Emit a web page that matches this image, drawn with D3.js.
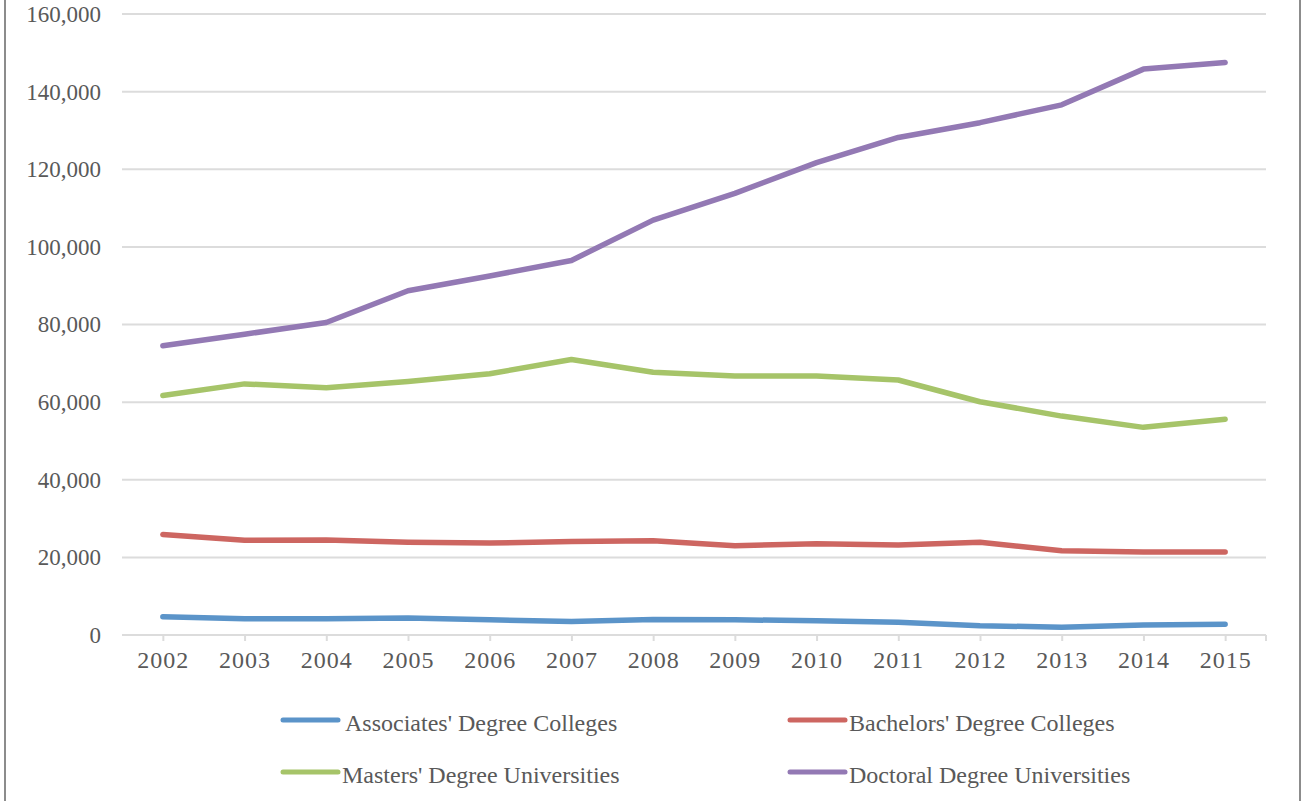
<!DOCTYPE html>
<html>
<head>
<meta charset="utf-8">
<script src="https://cdn.jsdelivr.net/npm/d3@7"></script>
<style>
  body { margin: 0; background: #fff; }
  svg { display: block; font-family: "Liberation Serif", "Times New Roman", serif; }
</style>
</head>
<body>
<div class="visHolder"></div>
<script>
// values
var years = ["2002", "2003", "2004", "2005", "2006", "2007", "2008", "2009", "2010", "2011", "2012", "2013", "2014", "2015"];
var associates = [4700, 4200, 4200, 4400, 3900, 3500, 4000, 3900, 3700, 3300, 2400, 2000, 2600, 2750];
var bachelors = [25900, 24400, 24500, 23900, 23700, 24100, 24300, 23000, 23500, 23200, 23900, 21700, 21400, 21400];
var masters = [61700, 64700, 63700, 65300, 67300, 71000, 67700, 66700, 66700, 65700, 60100, 56400, 53500, 55600];
var doctoral = [74500, 77500, 80500, 88700, 92500, 96500, 106900, 113800, 121700, 128200, 132000, 136600, 145800, 147500];
var seriesNames = ["Associates' Degree Colleges", "Bachelors' Degree Colleges", "Masters' Degree Universities", "Doctoral Degree Universities"];
var yTicks = [0, 20000, 40000, 60000, 80000, 100000, 120000, 140000, 160000];

var width = 1306,
  height = 801;
var colors = ["#5b94c9", "#cd6661", "#a6c469", "#9379b4"];
var allSeries = [associates, bachelors, masters, doctoral];

var svg = d3
  .select(".visHolder")
  .append("svg")
  .attr("width", width)
  .attr("height", height);

// outer frame of the chart area (only the sides show)
svg
  .append("rect")
  .attr("x", 5)
  .attr("y", -10)
  .attr("width", 1295)
  .attr("height", height + 20)
  .attr("fill", "none")
  .attr("stroke", "#8c8c8c")
  .attr("stroke-width", 2);

var xScale = d3.scalePoint().domain(years).range([122, 1266]).padding(0.5);
var yScale = d3.scaleLinear().domain([0, 160000]).range([635, 14]);

// gridlines
svg
  .append("g")
  .selectAll("line")
  .data(yTicks)
  .enter()
  .append("line")
  .attr("x1", 122)
  .attr("x2", 1266)
  .attr("y1", (d) => yScale(d))
  .attr("y2", (d) => yScale(d))
  .attr("stroke", "#dcdcdc")
  .attr("stroke-width", 2);

// y axis labels, no axis line
var yAxis = d3
  .axisLeft(yScale)
  .tickValues(yTicks)
  .tickSize(0)
  .tickPadding(21)
  .tickFormat(d3.format(","));

svg
  .append("g")
  .attr("transform", "translate(122,0)")
  .call(yAxis)
  .call((g) => g.select(".domain").remove())
  .selectAll("text")
  .attr("font-family", "Liberation Serif")
  .attr("font-size", 23)
  .attr("fill", "#595959");

// x axis: ticks at category centres and at the right end
var xAxis = d3.axisBottom(xScale).tickSize(6).tickPadding(10);

var xg = svg
  .append("g")
  .attr("transform", "translate(0,635)")
  .call(xAxis);
xg.select(".domain").remove();
xg.selectAll(".tick line").attr("stroke", "#dcdcdc").attr("stroke-width", 2);
xg.selectAll("text")
  .attr("font-family", "Liberation Serif")
  .attr("font-size", 24)
  .attr("letter-spacing", 1)
  .attr("fill", "#595959");
xg.append("line")
  .attr("x1", 1266)
  .attr("x2", 1266)
  .attr("y1", 0)
  .attr("y2", 6)
  .attr("stroke", "#dcdcdc")
  .attr("stroke-width", 2);

// lines
var line = d3
  .line()
  .x((d, i) => xScale(years[i]))
  .y((d) => yScale(d));

svg
  .append("g")
  .selectAll("path")
  .data(allSeries)
  .enter()
  .append("path")
  .attr("d", line)
  .attr("fill", "none")
  .attr("stroke", (d, i) => colors[i])
  .attr("stroke-width", 5.5)
  .attr("stroke-linecap", "round")
  .attr("stroke-linejoin", "round");

// legend, two columns by two rows
var legendX = [283, 790],
  legendY = [720, 772];

var legend = svg
  .append("g")
  .selectAll("g")
  .data(seriesNames)
  .enter()
  .append("g")
  .attr("transform", (d, i) => "translate(" + legendX[i % 2] + "," + legendY[Math.floor(i / 2)] + ")");

legend
  .append("line")
  .attr("x1", 0)
  .attr("x2", 55)
  .attr("stroke", (d, i) => colors[i])
  .attr("stroke-width", 5)
  .attr("stroke-linecap", "round");

legend
  .append("text")
  .attr("x", (d, i) => (i === 0 ? 62 : 59))
  .attr("y", 11)
  .attr("font-size", 24)
  .attr("fill", "#595959")
  .text((d) => d);
</script>
</body>
</html>
